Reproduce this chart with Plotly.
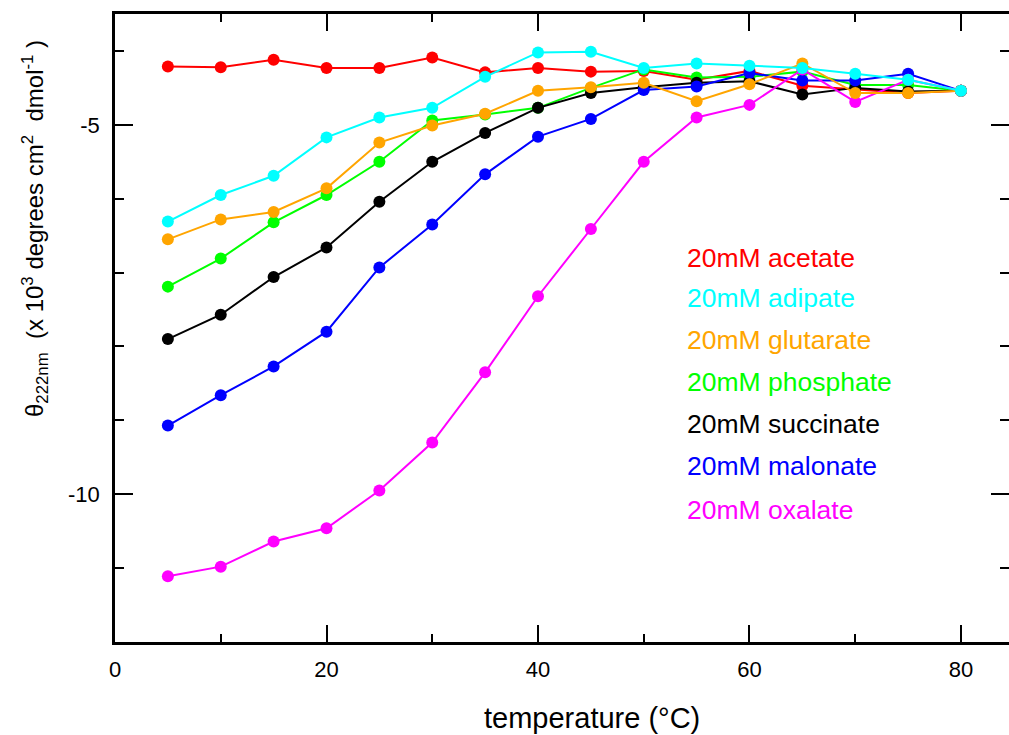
import plotly.graph_objects as go

# ---------------- data ----------------
temperature = [5, 10, 15, 20, 25, 30, 35, 40, 45, 50, 55, 60, 65, 70, 75, 80]

acetate   = [-4.21, -4.22, -4.12, -4.23, -4.23, -4.09, -4.29, -4.23, -4.28, -4.27, -4.39, -4.27, -4.47, -4.52, -4.57, -4.54]
adipate   = [-6.31, -5.95, -5.69, -5.17, -4.90, -4.77, -4.35, -4.02, -4.01, -4.23, -4.17, -4.20, -4.23, -4.31, -4.39, -4.54]
glutarate = [-6.55, -6.28, -6.18, -5.86, -5.24, -5.01, -4.85, -4.54, -4.49, -4.43, -4.68, -4.45, -4.17, -4.57, -4.57, -4.54]
phosphate = [-7.19, -6.81, -6.32, -5.95, -5.50, -4.94, -4.86, -4.77, -4.50, -4.25, -4.36, -4.35, -4.28, -4.46, -4.46, -4.54]
succinate = [-7.90, -7.57, -7.06, -6.66, -6.04, -5.50, -5.11, -4.77, -4.57, -4.49, -4.43, -4.41, -4.59, -4.50, -4.55, -4.54]
malonate  = [-9.07, -8.66, -8.27, -7.80, -6.93, -6.35, -5.67, -5.16, -4.92, -4.53, -4.48, -4.30, -4.40, -4.40, -4.31, -4.54]
oxalate   = [-11.11, -10.98, -10.64, -10.46, -9.95, -9.30, -8.35, -7.32, -6.41, -5.50, -4.90, -4.73, -4.25, -4.69, -4.39, -4.54]

legend_names = ["20mM acetate", "20mM adipate", "20mM glutarate", "20mM phosphate",
                "20mM succinate", "20mM malonate", "20mM oxalate"]
legend_colors = ["#ff0000", "#00ffff", "#ffa500", "#00ff00", "#000000", "#0000ff", "#ff00ff"]

x_ticks = [0, 20, 40, 60, 80]
y_ticks = [-5, -10]
y_tick_text = ["-5", "-10"]

# drawing order (bottom to top)
series = [
    ("20mM acetate", acetate, "#ff0000"),
    ("20mM phosphate", phosphate, "#00ff00"),
    ("20mM succinate", succinate, "#000000"),
    ("20mM malonate", malonate, "#0000ff"),
    ("20mM oxalate", oxalate, "#ff00ff"),
    ("20mM glutarate", glutarate, "#ffa500"),
    ("20mM adipate", adipate, "#00ffff"),
]

FONT = "Liberation Sans, Arial, Helvetica, sans-serif"

fig = go.Figure()
for name, vals, col in series:
    fig.add_trace(go.Scatter(
        x=temperature, y=vals, name=name, mode="lines+markers",
        line=dict(color=col, width=2),
        marker=dict(color=col, size=12),
        showlegend=False,
    ))

# invisible trace to carry the right-hand tick axis
fig.add_trace(go.Scatter(x=temperature, y=acetate, yaxis="y2", mode="lines",
                         opacity=0, showlegend=False, hoverinfo="skip"))

L, T, B, R = 115, 14, 93, 0
W, H = 1009, 735
pw, ph = W - L - R, H - T - B

fig.update_layout(
    width=W, height=H,
    margin=dict(l=L, r=R, t=T, b=B),
    paper_bgcolor="white", plot_bgcolor="white",
    font=dict(family=FONT, color="black", size=22),
    xaxis=dict(
        range=[0, 84.54], tickvals=x_ticks, ticks="inside", ticklen=17, tickwidth=2,
        tickcolor="black", showline=True, linecolor="black", linewidth=2.5,
        mirror="ticks", showgrid=False, zeroline=False,
        tickfont=dict(size=22), ticklabelstandoff=6,
        minor=dict(dtick=10, tick0=0, ticks="inside", ticklen=8, tickwidth=2,
                   tickcolor="black", showgrid=False),
    ),
    yaxis=dict(
        range=[-12, -3.5], tickvals=y_ticks, ticktext=y_tick_text, ticks="inside",
        ticklen=18, tickwidth=2,
        tickcolor="black", showline=True, linecolor="black", linewidth=2.5,
        mirror=False, showgrid=False, zeroline=False,
        tickfont=dict(size=22), ticklabelstandoff=8,
        minor=dict(dtick=1, tick0=0, ticks="inside", ticklen=9, tickwidth=2,
                   tickcolor="black", showgrid=False),
    ),
    yaxis2=dict(
        overlaying="y", side="right", matches="y", range=[-12, -3.5],
        tickvals=y_ticks, ticks="inside", ticklen=18, tickwidth=2, tickcolor="black",
        showticklabels=False, showline=False, showgrid=False, zeroline=False,
        minor=dict(dtick=1, tick0=0, ticks="inside", ticklen=9, tickwidth=2,
                   tickcolor="black", showgrid=False),
    ),
)

# axis titles
fig.add_annotation(
    text="temperature (°C)", xref="paper", yref="paper",
    x=(592 - L) / pw, y=(H - B - 718) / ph, xanchor="center", yanchor="middle",
    showarrow=False, font=dict(family=FONT, size=29, color="black"),
)
fig.add_annotation(
    text="θ<sub>222nm</sub>  (x 10<sup>3</sup> degrees cm<sup>2</sup>  dmol<sup>-1</sup> )",
    xref="paper", yref="paper", textangle=-90,
    x=(35 - L) / pw, y=(H - B - 229) / ph, xanchor="center", yanchor="middle",
    showarrow=False, font=dict(family=FONT, size=24, color="black"),
)

# coloured text legend
legend_y_px = [258, 298, 340, 382, 424, 466, 510]
for name, col, ypx in zip(legend_names, legend_colors, legend_y_px):
    fig.add_annotation(
        text=name, xref="paper", yref="paper",
        x=(685 - L) / pw, y=(H - B - ypx) / ph, xanchor="left", yanchor="middle",
        showarrow=False, font=dict(family=FONT, size=26.5, color=col),
    )

fig.write_html("out.html")
